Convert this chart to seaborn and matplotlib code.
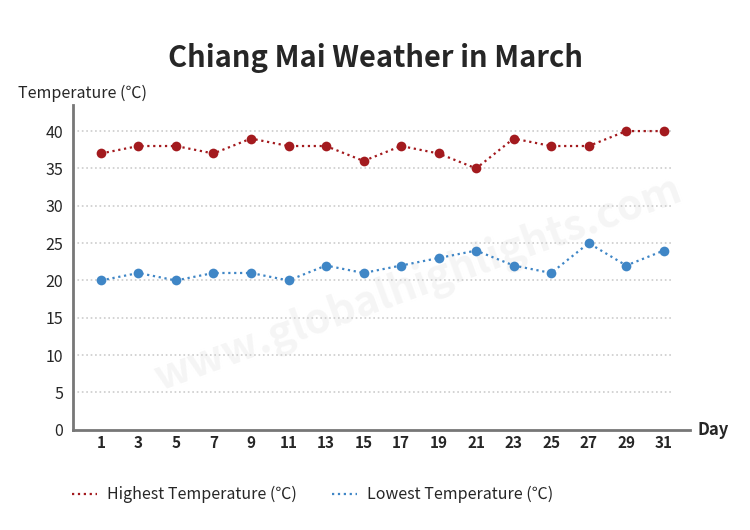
import numpy as np
import pandas as pd
import matplotlib
matplotlib.use('Agg')
import matplotlib.pyplot as plt
import seaborn as sns

# data
days = [1, 3, 5, 7, 9, 11, 13, 15, 17, 19, 21, 23, 25, 27, 29, 31]
high_temp = [37, 38, 38, 37, 39, 38, 38, 36, 38, 37, 35, 39, 38, 38, 40, 40]
low_temp = [20, 21, 20, 21, 21, 20, 22, 21, 22, 23, 24, 22, 21, 25, 22, 24]
y_ticks = [0, 5, 10, 15, 20, 25, 30, 35, 40]

high_label = 'Highest Temperature (℃)'
low_label = 'Lowest Temperature (℃)'

df = pd.DataFrame({'Day': days * 2,
                   'Temp': high_temp + low_temp,
                   'Series': [high_label] * len(days) + [low_label] * len(days)})

sns.set_style('white')
plt.rcParams['font.family'] = ['Noto Sans CJK KR', 'DejaVu Sans']

red = '#a31a1e'
blue = '#3f86c6'

fig = plt.figure(figsize=(7.5, 5.3), dpi=100)
ax = fig.add_axes([0.097, 0.189, 0.823, 0.613])

# faint watermark
ax.text(0.56, 0.45, 'www.globalhighlights.com', transform=ax.transAxes,
        fontsize=30, fontweight='bold', color='#f5f5f5', rotation=20,
        ha='center', va='center', zorder=0)

sns.lineplot(data=df, x='Day', y='Temp', hue='Series',
             palette={high_label: red, low_label: blue},
             marker='o', markersize=7, markeredgewidth=0,
             linestyle=':', linewidth=1.6, ax=ax, zorder=3)

ax.set_xlim(-0.5, 32.4)
ax.set_ylim(0, 43.5)
ax.set_xticks(days)
ax.set_yticks(y_ticks)
ax.tick_params(axis='x', direction='in', length=4, width=1.2, color='#777777',
               labelsize=11, pad=4)
ax.tick_params(axis='y', length=0, labelsize=11.5, pad=7)
for lbl in ax.get_xticklabels():
    lbl.set_fontweight('bold')

# dotted grid lines, not reaching the right end of the spine
for v in y_ticks[1:]:
    ax.plot([-0.5, 31.4], [v, v], color='#cccccc', linestyle=':',
            linewidth=1.2, zorder=1)

for s in ['top', 'right']:
    ax.spines[s].set_visible(False)
for s in ['left', 'bottom']:
    ax.spines[s].set_color('#777777')
    ax.spines[s].set_linewidth(2)

ax.set_xlabel('')
ax.set_ylabel('')
ax.text(1.012, 0.0, 'Day', transform=ax.transAxes, fontsize=12,
        fontweight='bold', ha='left', va='center')
fig.text(0.024, 0.823, 'Temperature (℃)', fontsize=11.5, ha='left', va='center')
fig.text(0.5, 0.89, 'Chiang Mai Weather in March', fontsize=21,
         fontweight='bold', ha='center', va='center')

handles = [plt.Line2D([], [], color=red, linestyle=':', linewidth=1.6),
           plt.Line2D([], [], color=blue, linestyle=':', linewidth=1.6)]
ax.legend(handles, [high_label, low_label], ncol=2, frameon=False,
          loc='center left', bbox_to_anchor=(-0.025, -0.2), fontsize=11.5,
          handlelength=1.6, handletextpad=0.6, columnspacing=2.2)

fig.savefig('out.png', dpi=100)
